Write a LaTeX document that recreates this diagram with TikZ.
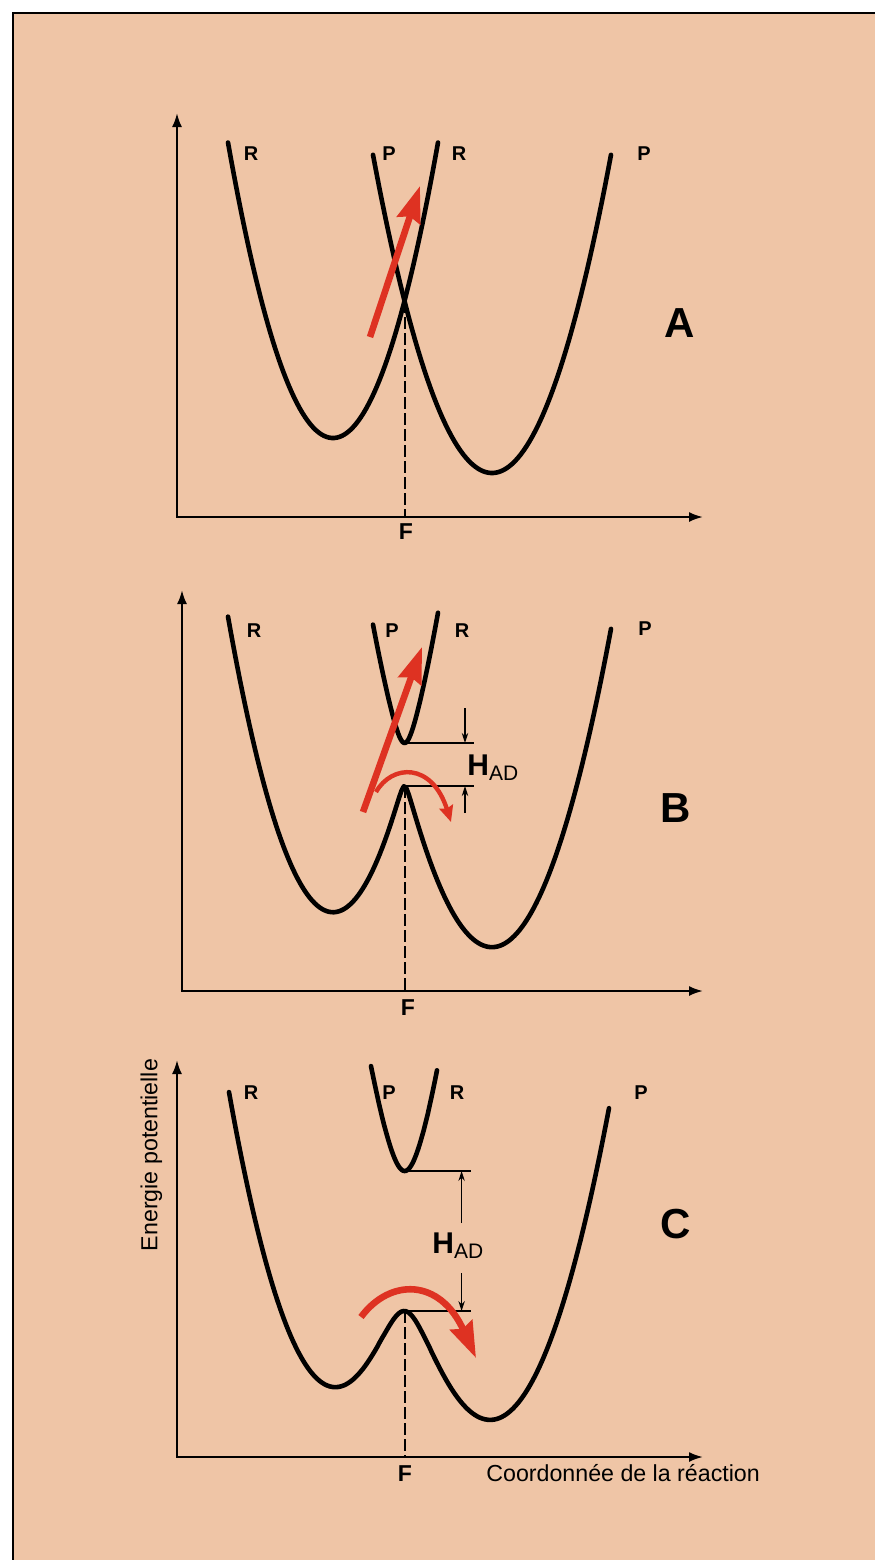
\documentclass[tikz,border=0pt]{standalone}
\usepackage{fontspec}
\setmainfont{Liberation Sans}
\usetikzlibrary{arrows.meta}

\definecolor{paper}{RGB}{239,197,166}
\definecolor{arrowred}{RGB}{222,50,34}

\begin{document}
\begin{tikzpicture}[
    x=0.5pt, y=-0.5pt,
    declare function={
      ER(\x)=438-2.68*((\x-333)/10)^2;
      EP(\x)=473-2.247*((\x-492)/10)^2;
      lowS(\x,\gap)=(ER(\x)+EP(\x))/2+veclen((ER(\x)-EP(\x))/2,\gap);
      upS(\x,\gap)=(ER(\x)+EP(\x))/2-veclen((ER(\x)-EP(\x))/2,\gap);
    },
    axis/.style={line width=1.1pt, {Latex[length=7pt,width=5pt]}-{Latex[length=7pt,width=5pt]}},
    curve/.style={line width=2.3pt, line join=round, line cap=round},
    guide/.style={line width=1pt, dash pattern=on 6pt off 2pt},
    level/.style={line width=0.8pt},
    dimarrow/.style={line width=0.6pt, -{Stealth[length=5pt,width=3.2pt]}},
    redarrow/.style={draw=arrowred, line width=3.3pt, -{Stealth[length=18pt,width=12pt,inset=2pt]}},
    thinred/.style={draw=arrowred, line width=2.2pt, -{Stealth[length=8pt,width=7pt,inset=1pt]}},
    curvelabel/.style={font=\fontsize{10}{11}\selectfont\bfseries, anchor=base, inner sep=0pt},
    flabel/.style={font=\fontsize{11.5}{12}\selectfont\bfseries, anchor=base, inner sep=0pt},
    panel/.style={font=\fontsize{21}{22}\selectfont\bfseries, anchor=base, inner sep=0pt},
    had/.style={anchor=base west, inner sep=0pt},
    axislabel/.style={font=\fontsize{11.6}{12}\selectfont, inner sep=0pt}
]
\useasboundingbox (0,0) rectangle (875,1560);

% Paper
\fill[white] (0,0) rectangle (875,1560);
\fill[paper] (13,13) rectangle (875,1560);
\draw[line width=1.2pt] (13,1560) -- (13,13) -- (875,13);

% Panel A: crossing without coupling
\draw[axis] (177,113) |- (703,517);
\draw[curve] plot[domain=228:438, samples=80] (\x,{ER(\x)});
\draw[curve] plot[domain=373:611, samples=80] (\x,{EP(\x)});
\coordinate (crossA) at (404.5,301);
\draw[guide] (crossA) -- (crossA |- 0,517);
\node[curvelabel] (rA1) at (251,160) {R};
\node[curvelabel] (pA1) at (389,160) {P};
\node[curvelabel] (rA2) at (459,160) {R};
\node[curvelabel] (pA2) at (644,160) {P};
\node[flabel] (fA) at (406,539) {F};
\node[panel] (labA) at (680,337) {A};
\draw[redarrow] (370,337) -- (420,186);

% Panel B: weak coupling
\begin{scope}[shift={(0,474)}]
\draw[axis] (182,116) |- (703,517);
\draw[curve] plot[domain=228:611, samples=160] (\x,{lowS(\x,11)});
\draw[curve] plot[domain=373:438, samples=60] (\x,{upS(\x,32)});
\coordinate (topB) at (404.5,269);
\coordinate (peakB) at (404.5,312);
\draw[guide] (peakB) -- (peakB |- 0,517);
\draw[level] (topB) -- ++(69,0);
\draw[level] (peakB) -- ++(69,0);
\draw[dimarrow] (465,234) -- (465,269);
\draw[dimarrow] (465,339) -- (465,312);
\node[had] (hadB) at (467,301) {{\fontsize{15}{16}\selectfont\bfseries H}{\fontsize{10.5}{11}\selectfont\raisebox{-2.5pt}{AD}}};
\node[curvelabel] (rB1) at (254,163) {R};
\node[curvelabel] (pB1) at (392,163) {P};
\node[curvelabel] (rB2) at (462,163) {R};
\node[curvelabel] (pB2) at (645,161) {P};
\node[flabel] (fB) at (408,541) {F};
\node[panel] (labB) at (676,348) {B};
\draw[redarrow] (363,338) -- (422,173);
\draw[thinred] (376,318) .. controls (392,290) and (432,288) .. (451,348);
\end{scope}

% Panel C: strong coupling
\begin{scope}[shift={(0,940)}]
\draw[axis] (177,120) |- (703,517);
\draw[curve] plot[domain=229:609, samples=160] (\x,{lowS(\x,70)});
\draw[curve] plot[domain=371:437, samples=60] (\x,{upS(\x,70)});
\coordinate (topC) at (404.5,231);
\coordinate (peakC) at (404.5,371);
\draw[guide] (peakC) -- (peakC |- 0,517);
\draw[level] (topC) -- ++(66,0);
\draw[level] (peakC) -- ++(66,0);
\draw[dimarrow] (461.6,283) -- (461.6,231);
\draw[dimarrow] (461.6,333) -- (461.6,371);
\node[had] (hadC) at (432,313) {{\fontsize{15}{16}\selectfont\bfseries H}{\fontsize{10.5}{11}\selectfont\raisebox{-2.5pt}{AD}}};
\node[curvelabel] (rC1) at (251,159) {R};
\node[curvelabel] (pC1) at (389,159) {P};
\node[curvelabel] (rC2) at (457,159) {R};
\node[curvelabel] (pC2) at (641,159) {P};
\node[flabel] (fC) at (405,541) {F};
\node[panel] (labC) at (676,298) {C};
\node[axislabel, rotate=90] (ylab) at (151.5,215) {Energie potentielle};
\node[axislabel, anchor=base west] (xlab) at (486,541) {Coordonnée de la réaction};
\draw[redarrow] (361,377) .. controls (390,338) and (440,338) .. (476,418);
\end{scope}

\end{tikzpicture}
\end{document}
